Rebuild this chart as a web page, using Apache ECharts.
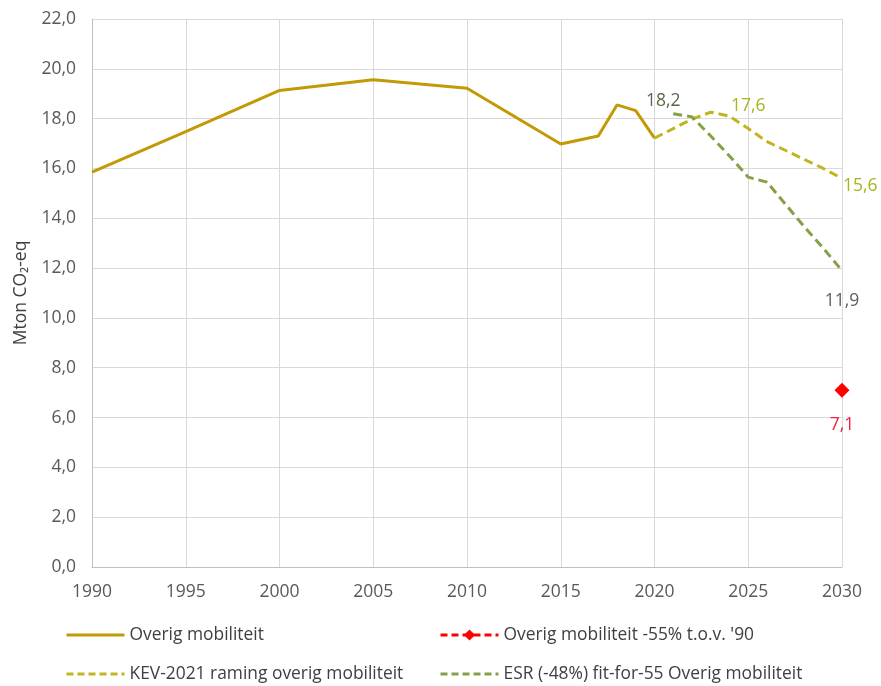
<!DOCTYPE html>
<html>
<head>
<meta charset="utf-8">
<script src="https://cdn.jsdelivr.net/npm/echarts@6/dist/echarts.min.js"></script>
<style>
  html, body { margin: 0; padding: 0; background: #fff; }
  #chart { width: 881px; height: 686px; }
</style>
</head>
<body>
<div id="chart"></div>
<script>
// historische reeks
var histYears = [1990, 1995, 2000, 2005, 2010, 2015, 2017, 2018, 2019, 2020];
var histValues = [15.85, 17.48, 19.13, 19.56, 19.22, 16.98, 17.3, 18.55, 18.32, 17.22];

// KEV-2021 raming
var kevYears = [2020, 2021, 2022, 2023, 2024, 2025, 2026, 2027, 2028, 2029, 2030];
var kevValues = [17.22, 17.6, 17.98, 18.26, 18.1, 17.6, 17.08, 16.72, 16.36, 16.0, 15.6];

// ESR (-48%) fit-for-55
var esrYears = [2021, 2022, 2023, 2024, 2025, 2026, 2027, 2028, 2029, 2030];
var esrValues = [18.2, 18.07, 17.3, 16.5, 15.65, 15.45, 14.55, 13.65, 12.8, 11.9];

// doel -55% t.o.v. '90
var targetYears = [2030];
var targetValues = [7.1];

var yTicks = [0, 2, 4, 6, 8, 10, 12, 14, 16, 18, 20, 22];

var FONT = "Open Sans";
function nl(v) { return v.toFixed(1).replace('.', ','); }

// labels alleen op een paar punten; die punten krijgen een onzichtbaar symbool
function pairs(years, values, labels) {
    return values.map(function (v, i) {
        var item = { value: [years[i], v] };
        if (labels && labels[years[i]]) {
            item.symbol = 'circle';
            item.symbolSize = 2;
            item.itemStyle = { color: 'rgba(0,0,0,0)', borderWidth: 0 };
            item.label = Object.assign({
                show: true,
                fontFamily: FONT,
                fontSize: 17.5,
                formatter: function (p) { return nl(p.value[1]); }
            }, labels[years[i]]);
        }
        return item;
    });
}

var myChart = echarts.init(document.getElementById('chart'));

var noDot = { color: 'rgba(0,0,0,0)', borderWidth: 0, opacity: 0 };
var dashIcon = { type: [7, 4], width: 3 };
var legendBase = {
    orient: 'vertical', top: 625, height: 62, padding: 0,
    itemWidth: 58, itemHeight: 14, itemGap: 19,
    textStyle: { fontFamily: FONT, fontSize: 17.4, lineHeight: 20, color: '#404040' }
};

var option = {
    animation: false,
    grid: { left: 92, right: 39, top: 19, bottom: 119 },
    legend: [
        Object.assign({}, legendBase, {
            left: 65,
            data: [
                { name: 'Overig mobiliteit', itemStyle: noDot, lineStyle: { width: 3 } },
                { name: 'KEV-2021 raming overig mobiliteit', itemStyle: noDot, lineStyle: dashIcon }
            ]
        }),
        Object.assign({}, legendBase, {
            left: 439,
            data: [
                { name: "Overig mobiliteit -55% t.o.v. '90", lineStyle: dashIcon },
                { name: 'ESR (-48%) fit-for-55 Overig mobiliteit', itemStyle: noDot, lineStyle: dashIcon }
            ]
        })
    ],
    xAxis: {
        type: 'value', min: 1990, max: 2030, interval: 5,
        axisLine: { show: true, lineStyle: { color: '#BFBFBF', width: 1 } },
        axisTick: { show: false },
        axisLabel: {
            fontFamily: FONT, fontSize: 17.5, color: '#595959', margin: 16,
            formatter: function (v) { return String(v); }
        },
        splitLine: { show: true, lineStyle: { color: '#D9D9D9', width: 1 } }
    },
    yAxis: {
        type: 'value', min: 0, max: 22, interval: 2,
        name: 'Mton CO\u2082-eq', nameLocation: 'middle', nameGap: 62, nameRotate: 90,
        nameTextStyle: { fontFamily: FONT, fontSize: 17.5, color: '#404040' },
        axisLine: { show: true, lineStyle: { color: '#BFBFBF', width: 1 } },
        axisTick: { show: false },
        axisLabel: {
            fontFamily: FONT, fontSize: 17.5, color: '#595959', margin: 16,
            formatter: function (v) { return yTicks.indexOf(v) >= 0 ? nl(v) : ''; }
        },
        splitLine: { show: true, lineStyle: { color: '#D9D9D9', width: 1 } }
    },
    series: [
        {
            name: 'Overig mobiliteit',
            type: 'line',
            symbol: 'none',
            color: '#C19A06',
            lineStyle: { color: '#C19A06', width: 3 },
            data: pairs(histYears, histValues)
        },
        {
            name: 'KEV-2021 raming overig mobiliteit',
            type: 'line',
            symbol: 'none',
            color: '#C9B21A',
            lineStyle: { color: '#C2B420', width: 3, type: [9, 5] },
            data: pairs(kevYears, kevValues, {
                2025: { position: 'top', distance: 13, color: '#AAB41C' },
                2030: { position: 'right', distance: 0, offset: [0, 8], color: '#AAB41C' }
            })
        },
        {
            name: 'ESR (-48%) fit-for-55 Overig mobiliteit',
            type: 'line',
            symbol: 'none',
            color: '#8AA84A',
            lineStyle: { color: '#86A048', width: 3, type: [9, 5] },
            data: pairs(esrYears, esrValues, {
                2021: { position: 'top', distance: 3, offset: [-10, 0], color: '#56694A' },
                2030: { position: 'bottom', distance: 20, color: '#5B6356' }
            })
        },
        {
            name: "Overig mobiliteit -55% t.o.v. '90",
            type: 'line',
            symbol: 'diamond',
            symbolSize: 15,
            color: '#FF0000',
            itemStyle: { color: '#FF0000' },
            lineStyle: { color: '#FF0000', width: 3, type: [7, 5] },
            label: {
                show: true, position: 'bottom', distance: 18, color: '#F02040',
                fontFamily: FONT, fontSize: 17.5,
                formatter: function (p) { return nl(p.value[1]); }
            },
            data: pairs(targetYears, targetValues)
        }
    ]
};

myChart.setOption(option);
</script>
</body>
</html>
